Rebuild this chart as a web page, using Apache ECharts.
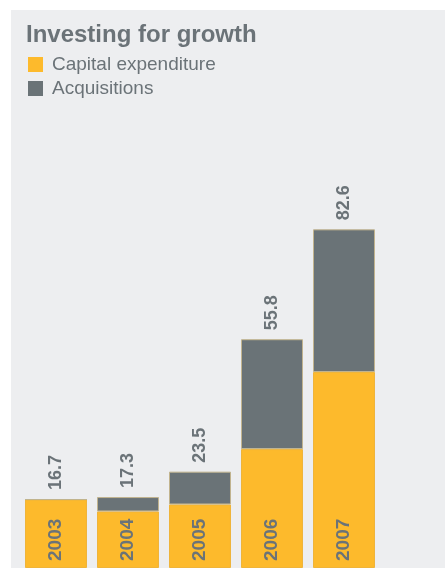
<!DOCTYPE html>
<html>
<head>
<meta charset="utf-8">
<script src="https://cdn.jsdelivr.net/npm/echarts@6/dist/echarts.min.js"></script>
<style>
  html, body { margin: 0; padding: 0; background: #ffffff; }
  #chart { width: 445px; height: 568px; }
</style>
</head>
<body>
<div id="chart"></div>
<script>
// Investment by year (£m)
const years = ['2003', '2004', '2005', '2006', '2007'];
const capitalExpenditure = [16.7, 13.8, 15.5, 29.0, 47.8];
const acquisitions = [0, 3.5, 8.0, 26.8, 34.8];
const totals = [16.7, 17.3, 23.5, 55.8, 82.6];

const textGrey = '#6b7378';
const yellow = '#fdba2c';
const grey = '#6a7377';
const font = 'Liberation Sans, Arial, sans-serif';

const chart = echarts.init(document.getElementById('chart'));
chart.setOption({
  animation: false,
  backgroundColor: '#ffffff',
  graphic: [{
    type: 'rect',
    z: -10,
    shape: { x: 11, y: 10, width: 434, height: 558 },
    style: { fill: '#edeef0' }
  }],
  title: {
    text: 'Investing for growth',
    left: 21,
    top: 18,
    textStyle: { color: textGrey, fontFamily: font, fontSize: 24, fontWeight: 'bold' }
  },
  legend: {
    data: ['Capital expenditure', 'Acquisitions'],
    orient: 'vertical',
    left: 28,
    top: 55,
    padding: 0,
    itemWidth: 15,
    itemHeight: 15,
    itemGap: 5,
    icon: 'rect',
    itemStyle: { borderWidth: 0 },
    textStyle: { color: textGrey, fontFamily: font, fontSize: 19, padding: [0, 0, 0, 4] }
  },
  grid: { left: 20, width: 360, top: 158, bottom: 0, containLabel: false },
  xAxis: {
    type: 'category',
    data: years,
    axisLine: { show: false },
    axisTick: { show: false },
    axisLabel: { show: false }
  },
  yAxis: {
    type: 'value',
    min: 0,
    max: 100,
    show: false,
    splitLine: { show: false }
  },
  series: [
    {
      name: 'Capital expenditure',
      type: 'bar',
      stack: 'inv',
      barCategoryGap: '13.9%',
      data: capitalExpenditure,
      itemStyle: { color: yellow, borderColor: '#efb43a', borderWidth: 1 },
      label: {
        show: true,
        position: 'insideBottom',
        distance: 7,
        rotate: 90,
        align: 'left',
        verticalAlign: 'middle',
        formatter: (p) => years[p.dataIndex],
        color: textGrey,
        fontFamily: font,
        fontSize: 19,
        fontWeight: 'bold'
      }
    },
    {
      name: 'Acquisitions',
      type: 'bar',
      stack: 'inv',
      data: acquisitions,
      itemStyle: { color: grey, borderColor: '#c2b48e', borderWidth: 1 },
      // stack total written above each column
      label: {
        show: true,
        position: 'top',
        distance: 9,
        rotate: 90,
        align: 'left',
        verticalAlign: 'middle',
        formatter: (p) => totals[p.dataIndex].toFixed(1),
        color: textGrey,
        fontFamily: font,
        fontSize: 18,
        fontWeight: 'bold'
      }
    }
  ]
});
</script>
</body>
</html>
